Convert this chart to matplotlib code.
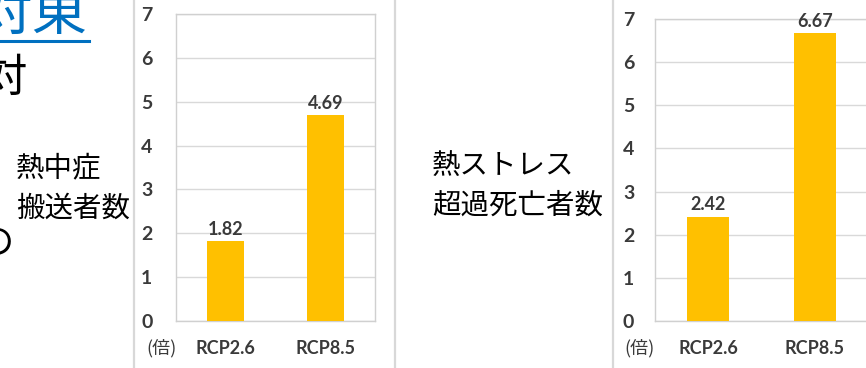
import matplotlib
matplotlib.use("Agg")
import matplotlib.pyplot as plt
from matplotlib.lines import Line2D

# ratio of future to present values (times)
scenarios = ["RCP2.6", "RCP8.5"]
heatstroke_transport = [1.82, 4.69]
heat_stress_deaths = [2.42, 6.67]
yticks = [0, 1, 2, 3, 4, 5, 6, 7]

W, H = 866, 368
bar_color = "#FFC000"
text_color = "#3a3a3a"
grid_color = "#d9d9d9"
cjk = ["Noto Sans CJK JP", "DejaVu Sans"]

fig = plt.figure(figsize=(W / 100, H / 100), dpi=100)
fig.patch.set_facecolor("white")


def px_axes(left, top, right, bottom):
    """Add axes using pixel edges measured from the top-left corner."""
    return fig.add_axes([left / W, 1 - bottom / H, (right - left) / W, (bottom - top) / H])


def bar_panel(ax, values, width, pad):
    ax.bar(range(len(scenarios)), values, width=width, color=bar_color, zorder=3)
    ax.set_xlim(-0.5, len(scenarios) - 0.5)
    ax.set_ylim(0, 7)
    ax.set_yticks(yticks)
    ax.set_xticks(range(len(scenarios)))
    ax.set_xticklabels(scenarios)
    ax.grid(axis="y", color=grid_color, linewidth=1, zorder=0)
    for s in ax.spines.values():
        s.set_color("#d0d0d0")
        s.set_linewidth(1)
    ax.tick_params(length=0, labelcolor=text_color)
    ax.tick_params(axis="y", pad=pad, labelsize=14)
    ax.tick_params(axis="x", pad=14, labelsize=13)
    for lab in ax.get_xticklabels() + ax.get_yticklabels():
        lab.set_fontfamily("Lato")
        lab.set_fontweight("bold")
    for i, v in enumerate(values):
        ax.annotate("{:.2f}".format(v), (i, v), xytext=(0, 2.5), textcoords="offset points",
                    ha="center", va="bottom", fontsize=13, color=text_color,
                    family="Lato", fontweight="bold")


ax1 = px_axes(176, 14, 375, 321)
bar_panel(ax1, heatstroke_transport, 0.37, 17)

ax2 = px_axes(655, 19, 868, 321)
bar_panel(ax2, heat_stress_deaths, 0.39, 15)


def ftext(x, y, s, **kw):
    fig.text(x / W, 1 - y / H, s, **kw)


# unit labels under the y axes
ftext(162, 348, "(倍)", ha="center", va="center", fontsize=13, color=text_color, family=cjk)
ftext(640, 348, "(倍)", ha="center", va="center", fontsize=13, color=text_color, family=cjk)

# panel titles
ftext(16, 168, "熱中症", ha="left", va="center", fontsize=20.5, family=cjk)
ftext(16, 209, "搬送者数", ha="left", va="center", fontsize=20.5, family=cjk)
ftext(432, 166, "熱ストレス", ha="left", va="center", fontsize=20.5, family=cjk)
ftext(432, 206, "超過死亡者数", ha="left", va="center", fontsize=20.5, family=cjk)

# slide text at the left edge
ftext(87, 14, "対東", ha="right", va="center", fontsize=40, color="#0070C0", family=cjk)
fig.add_artist(Line2D([0, 89 / W], [1 - 40.5 / H, 1 - 40.5 / H], color="#0070C0", linewidth=2.2))
ftext(27, 78, "対", ha="right", va="center", fontsize=32, family=cjk)
ftext(14, 244, "の", ha="right", va="center", fontsize=26, family=cjk)

# panel separators
for x in [134, 395, 613]:
    fig.add_artist(Line2D([x / W, x / W], [0, 1], color="#d8d8d8", linewidth=1.6))

fig.savefig("out.png", dpi=100)
